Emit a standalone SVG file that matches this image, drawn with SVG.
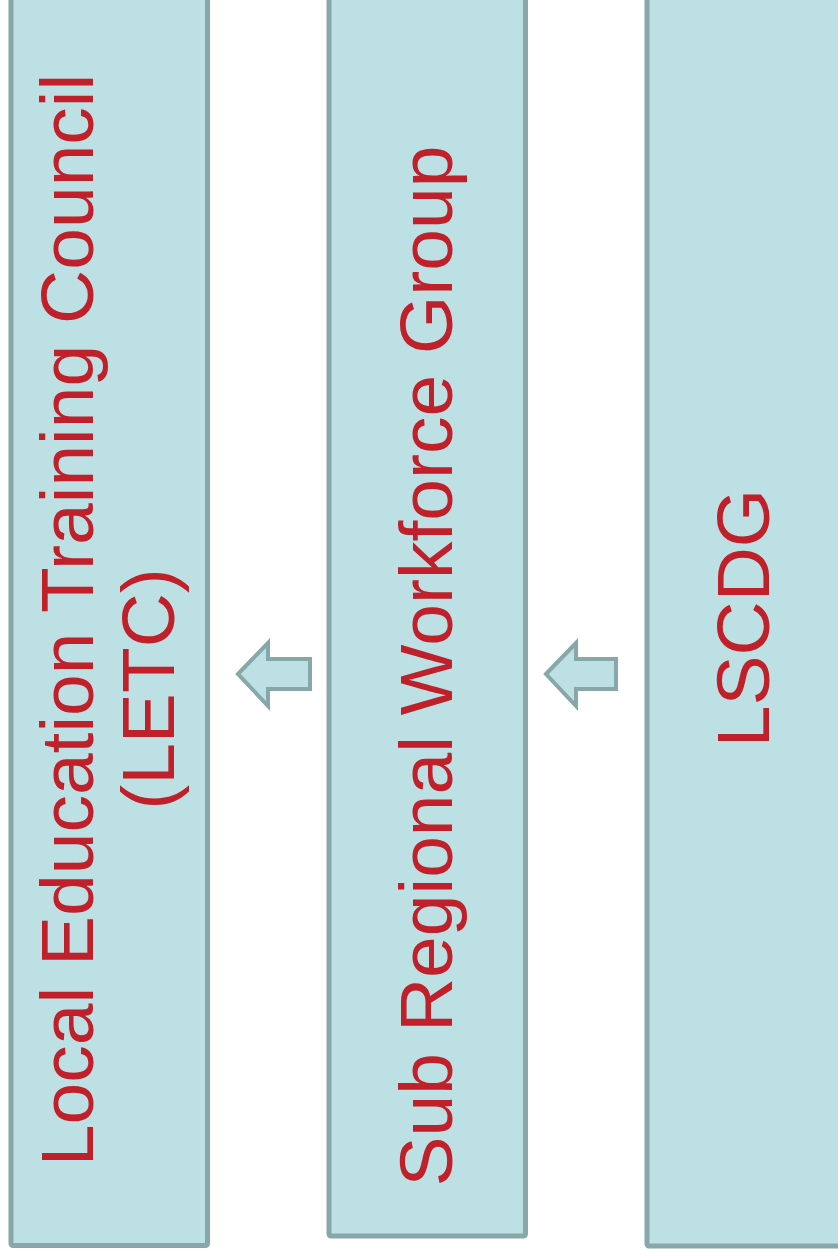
<svg xmlns="http://www.w3.org/2000/svg" width="838" height="1256" viewBox="0 0 838 1256">
<style>
.box{fill:#bce0e3;stroke:#87a7a8;stroke-width:5}
.arr{fill:#bce0e3;stroke:#87a7a8;stroke-width:4;stroke-linejoin:miter}
.lbl{font-family:"Liberation Sans",Arial,sans-serif;font-size:75px;fill:#c0202a;text-anchor:middle}
</style>
<rect width="838" height="1256" fill="#ffffff"/>
<g id="node-letc">
<rect class="box" x="11" y="-10" width="196.5" height="1255.5" rx="2"/>
<text class="lbl" transform="translate(93,620) rotate(-90)">Local Education Training Council</text>
<text class="lbl" transform="translate(174,689) rotate(-90)">(LETC)</text>
</g>
<g id="node-srwg">
<rect class="box" x="329" y="-10" width="196.5" height="1246" rx="2"/>
<text class="lbl" transform="translate(452,666) rotate(-90)">Sub Regional Workforce Group</text>
</g>
<g id="node-lscdg">
<rect class="box" x="647" y="-10" width="200" height="1256" rx="2"/>
<text class="lbl" transform="translate(769,618) rotate(-90)">LSCDG</text>
</g>
<g id="connectors">
<polygon class="arr" points="238,674 268,643 268,659 310,659 310,689 268,689 268,706"/>
<polygon class="arr" points="546,674 576,643 576,659 616,659 616,689 576,689 576,706"/>
</g>
</svg>
